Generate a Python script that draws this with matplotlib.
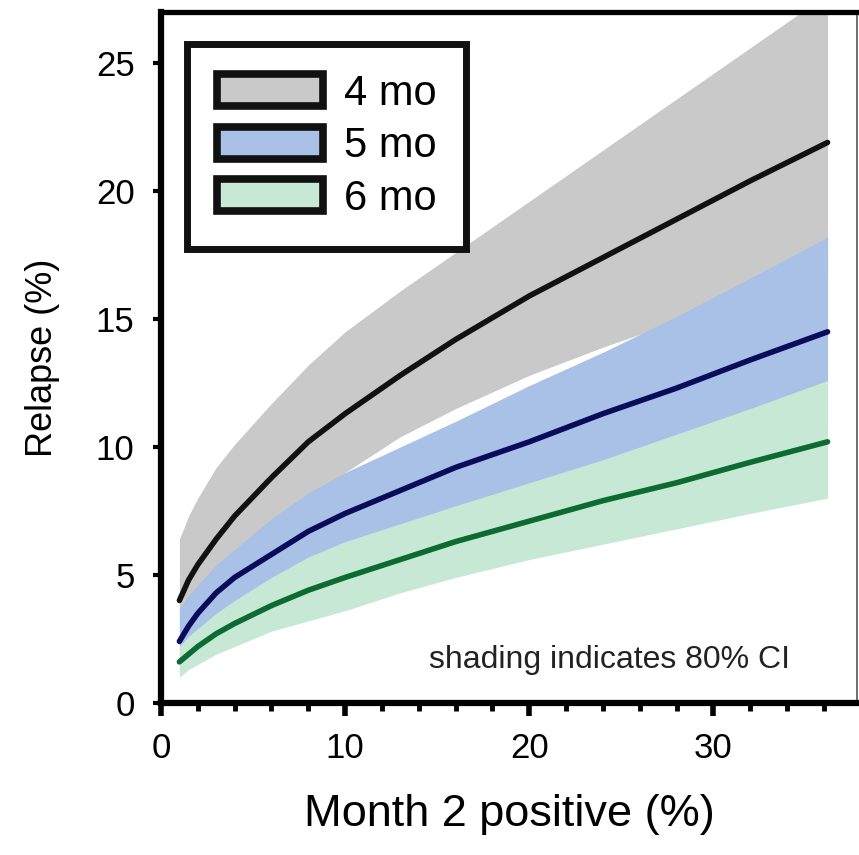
import numpy as np
import matplotlib.pyplot as plt
from matplotlib.patches import Patch
from matplotlib.ticker import MultipleLocator

plt.rcParams['font.family'] = ['Liberation Sans', 'DejaVu Sans']

# month 2 positive (%)
month2 = [1, 1.5, 2, 3, 4, 6, 8, 10, 13, 16, 20, 24, 28, 32, 36.2]

# 4 month regimen
mo4_mid = [4.0, 4.8, 5.4, 6.4, 7.3, 8.8, 10.2, 11.3, 12.8, 14.2, 15.9, 17.4, 18.9, 20.4, 21.9]
mo4_lo = [2.8, 3.3, 3.8, 4.6, 5.3, 6.5, 7.6, 9.0, 10.4, 11.5, 12.8, 13.9, 14.9, 15.8, 16.8]
mo4_hi = [6.4, 7.3, 8.0, 9.2, 10.1, 11.7, 13.2, 14.5, 16.1, 17.6, 19.6, 21.6, 23.6, 25.6, 27.7]

# 5 month regimen
mo5_mid = [2.4, 3.0, 3.5, 4.3, 4.9, 5.8, 6.7, 7.4, 8.3, 9.2, 10.2, 11.3, 12.3, 13.4, 14.5]
mo5_lo = [1.8, 2.2, 2.5, 3.0, 3.5, 4.3, 5.0, 5.5, 6.2, 6.8, 7.6, 8.4, 9.3, 10.2, 11.1]
mo5_hi = [3.7, 4.2, 4.6, 5.4, 6.0, 7.2, 8.2, 9.0, 10.0, 11.0, 12.4, 13.7, 15.1, 16.6, 18.2]

# 6 month regimen
mo6_mid = [1.6, 1.9, 2.2, 2.7, 3.1, 3.8, 4.4, 4.9, 5.6, 6.3, 7.1, 7.9, 8.6, 9.4, 10.2]
mo6_lo = [1.0, 1.3, 1.5, 1.9, 2.2, 2.8, 3.2, 3.6, 4.3, 4.9, 5.6, 6.2, 6.8, 7.4, 8.0]
mo6_hi = [2.2, 2.6, 2.9, 3.5, 4.0, 4.9, 5.7, 6.3, 7.0, 7.7, 8.6, 9.5, 10.5, 11.5, 12.6]

labels = ['4 mo', '5 mo', '6 mo']
band_colors = ['#c9c9c9', '#a9c1e6', '#c8e8d6']
line_colors = ['#111111', '#0b0b5c', '#0b6b30']

fig = plt.figure(figsize=(8.59, 8.55), dpi=100)
ax = fig.add_axes([0.1874, 0.178, 0.8103, 0.808])

bands = [(mo4_lo, mo4_hi), (mo5_lo, mo5_hi), (mo6_lo, mo6_hi)]
mids = [mo4_mid, mo5_mid, mo6_mid]
for (lo, hi), col in zip(bands, band_colors):
    ax.fill_between(month2, lo, hi, color=col, linewidth=0)
for mid, col in zip(mids, line_colors):
    ax.plot(month2, mid, color=col, linewidth=4, solid_capstyle='round',
            solid_joinstyle='round')

ax.set_xlim(0, 37.8)
ax.set_ylim(0, 27)
ax.xaxis.set_major_locator(MultipleLocator(10))
ax.xaxis.set_minor_locator(MultipleLocator(2))
ax.yaxis.set_major_locator(MultipleLocator(5))

ax.tick_params(axis='x', which='major', direction='out', length=9, width=4,
               labelsize=25, pad=12)
ax.tick_params(axis='x', which='minor', direction='out', length=6, width=3.5)
ax.tick_params(axis='y', which='major', direction='out', length=6, width=3,
               labelsize=25, pad=13)

for side in ['left', 'bottom']:
    ax.spines[side].set_linewidth(4.5)
ax.spines['top'].set_linewidth(3.8)
ax.spines['right'].set_linewidth(1.2)
ax.spines['right'].set_color('#555555')

ax.set_xlabel('Month 2 positive (%)', fontsize=32.5, labelpad=21)
ax.set_ylabel('Relapse (%)', fontsize=26, labelpad=26)

ax.text(0.644, 0.062, 'shading indicates 80% CI', transform=ax.transAxes,
        fontsize=23, ha='center', va='center', color='#222222')

handles = [Patch(facecolor=c, edgecolor='#111111', linewidth=5.5) for c in band_colors]
leg = ax.legend(handles, labels, loc='upper left', fontsize=30,
                bbox_to_anchor=(0.037, 0.954), frameon=True, fancybox=False,
                framealpha=1, handlelength=2.55, handleheight=0.8,
                labelspacing=0.3, handletextpad=0.5, borderpad=0.72,
                borderaxespad=0)
leg.get_frame().set_edgecolor('#111111')
leg.get_frame().set_linewidth(5)

fig.savefig('out.png', dpi=100)
